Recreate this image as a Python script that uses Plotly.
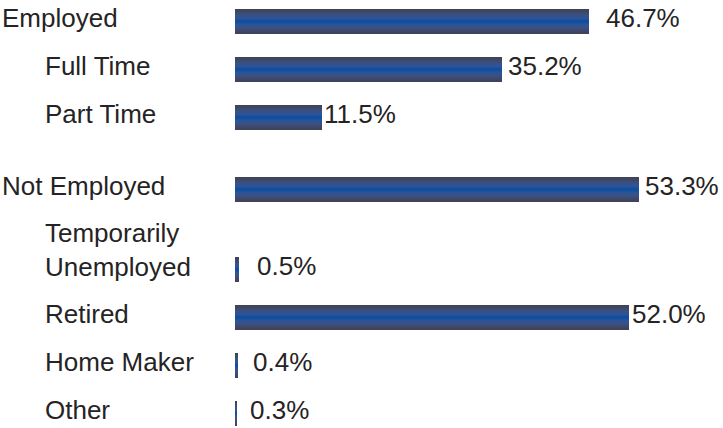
import plotly.graph_objects as go

# ---- data -------------------------------------------------------------
categories = ["Employed", "Full Time", "Part Time", "Not Employed",
              "Temporarily<br>Unemployed", "Retired", "Home Maker", "Other"]
shares = [46.7, 35.2, 11.5, 53.3, 0.5, 52.0, 0.4, 0.3]
value_labels = ["46.7%", "35.2%", "11.5%", "53.3%", "0.5%", "52.0%", "0.4%", "0.3%"]
indent_level = [0, 1, 1, 0, 1, 1, 1, 1]

# ---- layout -----------------------------------------------------------
W, H = 723, 428
row_y = [21.5, 69.5, 117.5, 189.5, 269.5, 317.5, 365.5, 413.5]   # y axis spans the canvas in px
BAR_H = 25
X0_PX = 235            # where the bars start
PX_PER_PCT = 7.58      # horizontal scale
LABEL_X = [0, 43]      # left edge of category text per indent level
value_gap = [15, 4, 0, 4, 16, 1, 13, 11]
TEXT_COLOR = "#262324"
FONT = "Liberation Sans, Arial, Helvetica, sans-serif"
FONT_SIZE = 26

# vertical gradient of each bar: distance from centre line -> rgb
grad_stops = [(0.00, (8, 78, 164)), (0.14, (20, 80, 158)), (0.32, (48, 84, 148)),
              (0.62, (60, 77, 124)), (1.00, (64, 66, 86))]


def grad(d):
    for (d0, c0), (d1, c1) in zip(grad_stops[:-1], grad_stops[1:]):
        if d <= d1:
            t = (d - d0) / (d1 - d0)
            return "rgb(%d,%d,%d)" % tuple(round(a + (b - a) * t) for a, b in zip(c0, c1))
    return "rgb(%d,%d,%d)" % grad_stops[-1][1]


fig = go.Figure()

# stacked layers of shrinking thickness build up the shaded bars
n_layers = 14
for k in range(n_layers):
    frac = 1 - k / n_layers
    fig.add_trace(go.Bar(
        x=shares, y=row_y, orientation="h",
        width=BAR_H * frac,
        marker=dict(color=grad(frac), line=dict(width=0)),
        hoverinfo="skip", showlegend=False,
    ))

annotations = []
for cat, lvl, y in zip(categories, indent_level, row_y):
    two_line = "<br>" in cat
    annotations.append(dict(
        text=cat, xref="paper", yref="y", x=LABEL_X[lvl] / W,
        y=y - (20 if two_line else 4), xanchor="left", yanchor="middle", align="left",
        showarrow=False, font=dict(family=FONT, size=FONT_SIZE, color=TEXT_COLOR),
    ))

for v, lab, y, gap in zip(shares, value_labels, row_y, value_gap):
    annotations.append(dict(
        text=lab, xref="x", yref="y", x=v, y=y - 3.5, xshift=gap,
        xanchor="left", yanchor="middle", showarrow=False,
        font=dict(family=FONT, size=FONT_SIZE, color=TEXT_COLOR),
    ))

fig.update_layout(
    width=W, height=H, margin=dict(l=0, r=0, t=0, b=0),
    paper_bgcolor="white", plot_bgcolor="white",
    barmode="overlay", bargap=0,
    xaxis=dict(range=[-X0_PX / PX_PER_PCT, (W - X0_PX) / PX_PER_PCT],
               visible=False, fixedrange=True),
    yaxis=dict(range=[H, 0], visible=False, fixedrange=True),
    annotations=annotations,
    hovermode=False,
)

fig.write_html("out.html", config={"displayModeBar": False})
